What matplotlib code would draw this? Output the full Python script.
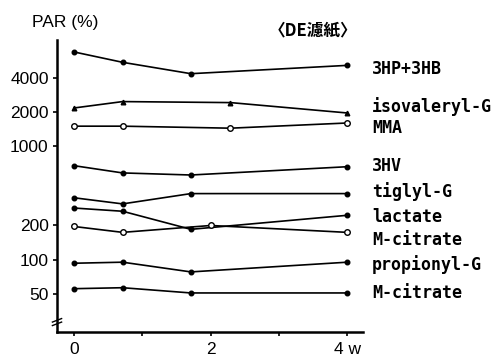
import numpy as np
import matplotlib.pyplot as plt
from matplotlib.ticker import FixedLocator, NullLocator

# time points (weeks)
t4 = [0, 0.71, 1.71, 4]
t_iso = [0, 0.71, 2.29, 4]
t_cit = [0, 0.71, 2.0, 4]

# PAR (%) values
hp_hb = [6760, 5480, 4350, 5150]
isovaleryl = [2170, 2470, 2420, 1960]
mma = [1500, 1500, 1440, 1600]
hv3 = [673, 581, 557, 659]
tiglyl = [351, 310, 382, 382]
lactate = [285, 267, 185, 246]
mcit_hi = [196, 174, 200, 174]
propionyl = [93, 95, 78, 95]
mcit_lo = [55.5, 56.6, 50.9, 50.9]

names = ['3HP+3HB', 'isovaleryl-G', 'MMA', '3HV', 'tiglyl-G', 'lactate',
         'M-citrate', 'propionyl-G', 'M-citrate']
label_y = [4830, 2220, 1444, 673, 398, 236, 149, 91.5, 51]

yticks = [50, 100, 200, 1000, 2000, 4000]

fig = plt.figure(figsize=(4.93, 3.58), dpi=100)
ax = fig.add_axes([57/493, 26/358, 306/493, 292/358])

series = [
    (t4, hp_hb, 'o', 'k'),
    (t_iso, isovaleryl, '^', 'k'),
    (t_iso, mma, 'o', 'w'),
    (t4, hv3, 'o', 'k'),
    (t4, tiglyl, 'o', 'k'),
    (t4, lactate, 'o', 'k'),
    (t_cit, mcit_hi, 'o', 'w'),
    (t4, propionyl, 'o', 'k'),
    (t4, mcit_lo, 'o', 'k'),
]
for x, y, m, fc in series:
    ms = 4 if fc == 'w' else 3.3
    ax.plot(x, y, color='k', lw=1.2, marker=m, ms=ms, mfc=fc, mec='k', mew=1)

ax.set_yscale('log')
ax.set_ylim(23.05, 8616)
ax.set_xlim(-0.25, 4.23)

ax.yaxis.set_major_locator(FixedLocator(yticks))
ax.yaxis.set_minor_locator(NullLocator())
ax.set_yticklabels([str(v) for v in yticks], fontsize=12.5, family='Liberation Sans')
ax.set_xticks([0, 1, 2, 3, 4])
ax.set_xticklabels(['0', '', '2', '', '4 w'], fontsize=12.5, family='Liberation Sans')
ax.tick_params(axis='y', length=3, width=1.2, pad=3)
ax.tick_params(axis='x', length=3, width=1.2, pad=4)

for s in ['top', 'right']:
    ax.spines[s].set_visible(False)
for s in ['left', 'bottom']:
    ax.spines[s].set_linewidth(1.8)

# axis break mark
ax.plot([-0.03, 0.03], [0.025, 0.045], transform=ax.transAxes, color='w', lw=3, clip_on=False)
ax.plot([-0.015, 0.015], [0.022, 0.034], transform=ax.transAxes, color='k', lw=1, clip_on=False)
ax.plot([-0.015, 0.015], [0.034, 0.046], transform=ax.transAxes, color='k', lw=1, clip_on=False)

trans = ax.get_yaxis_transform()
for name, ly in zip(names, label_y):
    ax.text(1.03, ly, name, transform=trans, ha='left', va='center',
            fontsize=12, family='DejaVu Sans Mono', fontweight='bold', clip_on=False)

fig.text(32/493, 1 - 22/358, 'PAR (%)', ha='left', va='center', fontsize=12.5,
         family='Liberation Sans')
fig.text(313/493, 1 - 30/358, '〈DE濾紙〉', ha='center', va='center', fontsize=12,
         family=['Noto Sans CJK JP', 'DejaVu Sans'], fontweight='bold')

fig.savefig('out.png', dpi=100)
